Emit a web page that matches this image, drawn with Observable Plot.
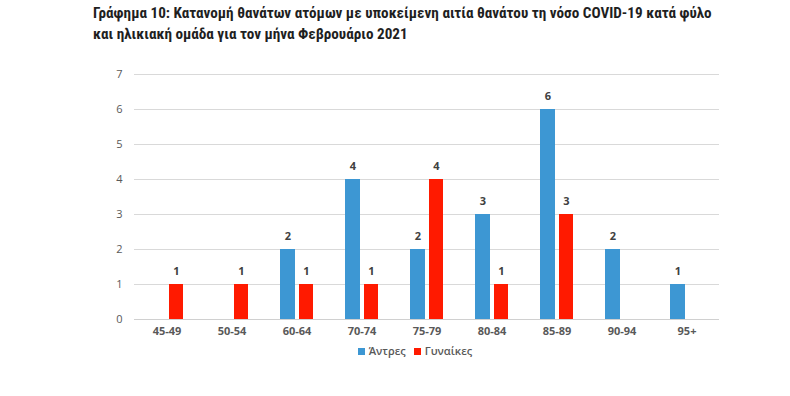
<!DOCTYPE html>
<html>
<head>
<meta charset="utf-8">
<script src="https://cdn.jsdelivr.net/npm/d3@7"></script>
<script src="https://cdn.jsdelivr.net/npm/@observablehq/plot@0.6"></script>
<style>
  html, body { margin: 0; padding: 0; background: #fff; }
  body { width: 790px; height: 396px; position: relative; overflow: hidden; font-family: "Open Sans", sans-serif; }
  #title { position: absolute; left: 93px; top: 3px; font-family: "Liberation Sans Narrow", "Roboto Condensed", "Open Sans", sans-serif; font-weight: bold; font-size: 15.2px; line-height: 21px; color: #1f1f1f; white-space: nowrap; }
  #chart { position: absolute; left: 0; top: 50px; }
  #legend { position: absolute; left: 0; width: 790px; top: 343px; text-align: center; font-size: 11px; font-weight: 600; color: #595959; }
  #legend span.sw { display: inline-block; width: 7px; height: 7px; margin-right: 4px; vertical-align: 0px; }
  #legend span.item { margin: 0 4px; margin-left: 44px; }
</style>
</head>
<body>
<div id="title">Γράφημα 10: Κατανομή θανάτων ατόμων με υποκείμενη αιτία θανάτου τη νόσο COVID-19 κατά φύλο<br>και ηλικιακή ομάδα για τον μήνα Φεβρουάριο 2021</div>
<div id="chart"></div>
<div id="legend"><span class="item"><span class="sw" style="background:#3d97d3"></span>Άντρες</span><span class="item" style="margin-left:4px"><span class="sw" style="background:#ff1a00"></span>Γυναίκες</span></div>
<script>
const ageGroups = ["45-49", "50-54", "60-64", "70-74", "75-79", "80-84", "85-89", "90-94", "95+"];
const men   = [null, null, 2, 4, 2, 3, 6, 2, 1];
const women = [1, 1, 1, 1, 4, 1, 3, null, null];
const yTicks = [0, 1, 2, 3, 4, 5, 6, 7];
const seriesNames = ["Άντρες", "Γυναίκες"];
const colors = ["#3d97d3", "#ff1a00"];

const menData = ageGroups.map((a, i) => ({age: a, value: men[i]})).filter(d => d.value != null);
const womenData = ageGroups.map((a, i) => ({age: a, value: women[i]})).filter(d => d.value != null);

const chart = Plot.plot({
  width: 790,
  height: 290,
  marginTop: 24,
  marginBottom: 21,
  marginLeft: 134,
  marginRight: 71,
  x: { domain: ageGroups, padding: 0, label: null, tickSize: 0 },
  y: { domain: [0, 7], ticks: yTicks, label: null, tickSize: 0 },
  style: { fontFamily: "Open Sans, sans-serif" },
  marks: [
    Plot.gridY(yTicks, { stroke: "#d9d9d9", strokeOpacity: 1 }),
    Plot.axisY({ ticks: yTicks, tickFormat: d3.format("d"), tickSize: 0, tickPadding: 12, fontSize: 11, fill: "#595959", label: null }),
    Plot.axisX({ tickSize: 0, tickPadding: 8, fontSize: 11, fontWeight: "bold", fill: "#595959", label: null }),
    Plot.barY(menData, { x: "age", y: "value", fill: colors[0], insetLeft: 16, insetRight: 34 }),
    Plot.barY(womenData, { x: "age", y: "value", fill: colors[1], insetLeft: 35, insetRight: 16 }),
    Plot.ruleY([0], { stroke: "#d0d0d0" }),
    Plot.text(menData, { x: "age", y: "value", text: "value", dx: -9, dy: -13, fontSize: 11, fontWeight: "bold", fill: "#404040" }),
    Plot.text(womenData, { x: "age", y: "value", text: "value", dx: 9.5, dy: -13, fontSize: 11, fontWeight: "bold", fill: "#404040" })
  ]
});
document.getElementById("chart").appendChild(chart);
</script>
</body>
</html>
